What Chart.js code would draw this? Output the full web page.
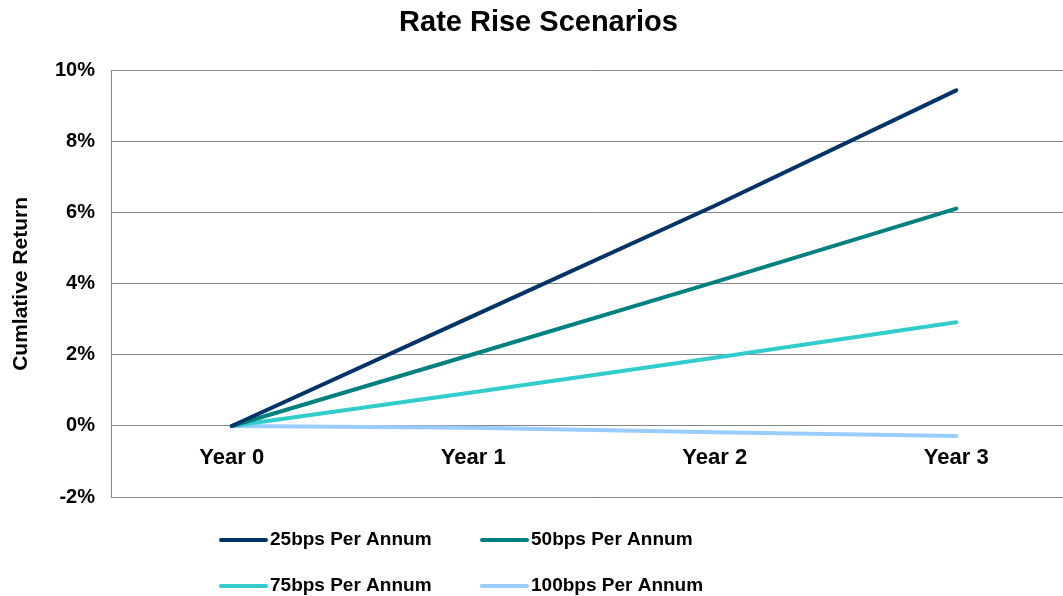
<!DOCTYPE html>
<html>
<head>
<meta charset="utf-8">
<title>Rate Rise Scenarios</title>
<script src="https://cdn.jsdelivr.net/npm/chart.js@4"></script>
<style>
  html, body { margin: 0; padding: 0; background: #ffffff; overflow: hidden; }
  #wrap { width: 1077px; height: 596px; }
</style>
</head>
<body>
<div id="wrap"><canvas id="chart" width="1077" height="596"></canvas></div>
<script>
// Scenario categories and cumulative returns (%)
const years = ['Year 0', 'Year 1', 'Year 2', 'Year 3'];
const seriesNames = ['25bps Per Annum', '50bps Per Annum', '75bps Per Annum', '100bps Per Annum'];
const bps25 = [0, 3.1, 6.2, 9.45];
const bps50 = [0, 2.02, 4.05, 6.12];
const bps75 = [0, 0.95, 1.92, 2.92];
const bps100 = [0, -0.05, -0.18, -0.28];
const yTicks = [-2, 0, 2, 4, 6, 8, 10];

const seriesColors = ['#003366', '#008080', '#33CCCC', '#99CCFF'];
const FONT = '"Liberation Sans", Arial, sans-serif';

const seriesValues = [bps25, bps50, bps75, bps100];
const datasets = seriesValues.map((vals, i) => ({
  label: seriesNames[i],
  data: vals,
  borderColor: seriesColors[i],
  backgroundColor: seriesColors[i],
  borderWidth: 4,
  borderCapStyle: 'round',
  pointRadius: 0,
  tension: 0,
  fill: false
}));

// Two-column legend drawn beneath the plot
const legendSlots = [[221, 540], [482, 540], [221, 586], [482, 586]];
const bottomLegend = {
  id: 'bottomLegend',
  afterDraw(chart) {
    const ctx = chart.ctx;
    ctx.save();
    chart.data.datasets.forEach((ds, i) => {
      const [x, y] = legendSlots[i];
      ctx.beginPath();
      ctx.strokeStyle = ds.borderColor;
      ctx.lineWidth = 4;
      ctx.lineCap = 'round';
      ctx.moveTo(x, y);
      ctx.lineTo(x + 45, y);
      ctx.stroke();
      ctx.fillStyle = '#000000';
      ctx.font = 'bold 19px ' + FONT;
      ctx.textBaseline = 'middle';
      ctx.textAlign = 'left';
      ctx.fillText(ds.label, x + 49, y);
    });
    ctx.restore();
  }
};

new Chart(document.getElementById('chart'), {
  type: 'line',
  data: { labels: years, datasets: datasets },
  plugins: [bottomLegend],
  options: {
    responsive: false,
    animation: false,
    layout: { padding: { left: 0, right: 0, top: 0, bottom: 99 } },
    plugins: {
      legend: { display: false },
      tooltip: { enabled: false },
      title: {
        display: true,
        text: 'Rate Rise Scenarios',
        color: '#000000',
        font: { family: FONT, size: 29, weight: 'bold' },
        padding: { top: 6, bottom: 30 }
      }
    },
    scales: {
      x: {
        type: 'category',
        position: { y: 0 },
        offset: true,
        grid: { display: false, drawTicks: false },
        border: { display: false },
        ticks: {
          color: '#000000',
          padding: 19,
          maxRotation: 0,
          font: { family: FONT, size: 22, weight: 'bold' }
        },
        afterFit(scale) { scale.height = 0; }
      },
      y: {
        min: -2,
        max: 10,
        afterBuildTicks(scale) { scale.ticks = yTicks.map(v => ({ value: v })); },
        grid: { color: '#868686', lineWidth: 1, drawTicks: false },
        border: { display: true, color: '#868686', width: 1 },
        ticks: {
          color: '#000000',
          padding: 16,
          font: { family: FONT, size: 20, weight: 'bold' },
          callback: v => v + '%'
        },
        title: {
          display: true,
          text: 'Cumlative Return',
          color: '#000000',
          font: { family: FONT, size: 21, weight: 'bold' },
          padding: { top: 9, bottom: 0 }
        },
        afterFit(scale) { scale.width = 111; }
      }
    }
  }
});
</script>
</body>
</html>
